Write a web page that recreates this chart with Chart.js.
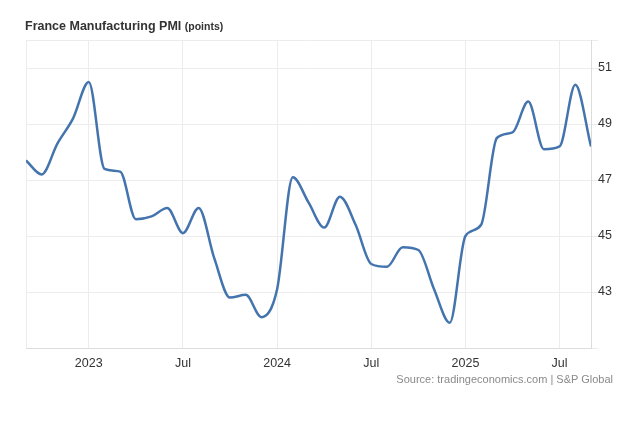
<!DOCTYPE html>
<html>
<head>
<meta charset="utf-8">
<script src="https://cdn.jsdelivr.net/npm/chart.js@4.4.0/dist/chart.umd.min.js"></script>
<style>
  html, body { margin: 0; padding: 0; background: #fff; }
  body { width: 624px; height: 426px; position: relative; overflow: hidden; font-family: "Liberation Sans", Arial, sans-serif; }
  #wrap { position: absolute; left: 0; top: 0; width: 624px; height: 426px; }
  #title { position: absolute; left: 25px; top: 19px; font-size: 12.5px; font-weight: bold; color: #333; white-space: nowrap; }
  #title span { font-size: 10.5px; }
  #source { position: absolute; right: 11px; top: 373px; font-size: 11px; color: #8a8a8a; white-space: nowrap; }
</style>
</head>
<body>
<div id="wrap"><canvas id="c"></canvas></div>
<div id="title">France Manufacturing PMI <span>(points)</span></div>
<div id="source">Source: tradingeconomics.com | S&amp;P Global</div>
<script>
const months = ["2022-09","2022-10","2022-11","2022-12","2023-01","2023-02","2023-03","2023-04","2023-05","2023-06","2023-07","2023-08","2023-09","2023-10","2023-11","2023-12","2024-01","2024-02","2024-03","2024-04","2024-05","2024-06","2024-07","2024-08","2024-09","2024-10","2024-11","2024-12","2025-01","2025-02","2025-03","2025-04","2025-05","2025-06","2025-07","2025-08","2025-09"];
const pmiValues = [47.7,47.2,48.3,49.2,50.5,47.4,47.3,45.6,45.7,46.0,45.1,46.0,44.2,42.8,42.9,42.1,43.1,47.1,46.2,45.3,46.4,45.4,44.0,43.9,44.6,44.5,43.1,41.9,45.0,45.4,48.5,48.7,49.8,48.1,48.2,50.4,48.2];
const xTickMonths = ["2023-01","2023-07","2024-01","2024-07","2025-01","2025-07"];
const xTickLabels = ["2023","Jul","2024","Jul","2025","Jul"];
const yTickValues = [43,45,47,49,51];
const yMin = 41, yMax = 52;

const idx = m => months.indexOf(m);
const points = months.map((m, i) => ({ x: i, y: pmiValues[i] }));
const xTickPos = xTickMonths.map(idx);

new Chart(document.getElementById('c'), {
  type: 'line',
  data: {
    datasets: [{
      data: points,
      borderColor: '#4474ae',
      borderWidth: 2.5,
      pointRadius: 0,
      fill: false,
      cubicInterpolationMode: 'monotone'
    }]
  },
  options: {
    responsive: true,
    maintainAspectRatio: false,
    animation: false,
    layout: { padding: { left: 26, top: 40, right: 0, bottom: 0 } },
    plugins: { legend: { display: false }, tooltip: { enabled: false } },
    scales: {
      x: {
        type: 'linear',
        min: 0,
        max: months.length - 1,
        afterBuildTicks: s => { s.ticks = [0, ...xTickPos].map(v => ({ value: v })); },
        afterFit: s => { s.height = 78; },
        grid: { color: '#ececec', drawTicks: false, lineWidth: 1 },
        border: { color: '#dcdcdc' },
        ticks: {
          padding: 8,
          color: '#333',
          font: { family: 'Liberation Sans', size: 12.5 },
          autoSkip: false,
          maxRotation: 0,
          callback: v => { const k = xTickPos.indexOf(v); return k >= 0 ? xTickLabels[k] : ''; }
        }
      },
      y: {
        position: 'right',
        min: yMin,
        max: yMax,
        afterBuildTicks: s => { s.ticks = [yMin, ...yTickValues, yMax].map(v => ({ value: v })); },
        afterFit: s => { s.width = 33; },
        grid: { color: '#ececec', tickLength: 7, lineWidth: 1 },
        border: { color: '#dcdcdc' },
        ticks: {
          padding: 0,
          color: '#333',
          font: { family: 'Liberation Sans', size: 12.5 },
          callback: v => yTickValues.includes(v) ? String(v) : ''
        }
      }
    }
  }
});
</script>
</body>
</html>
